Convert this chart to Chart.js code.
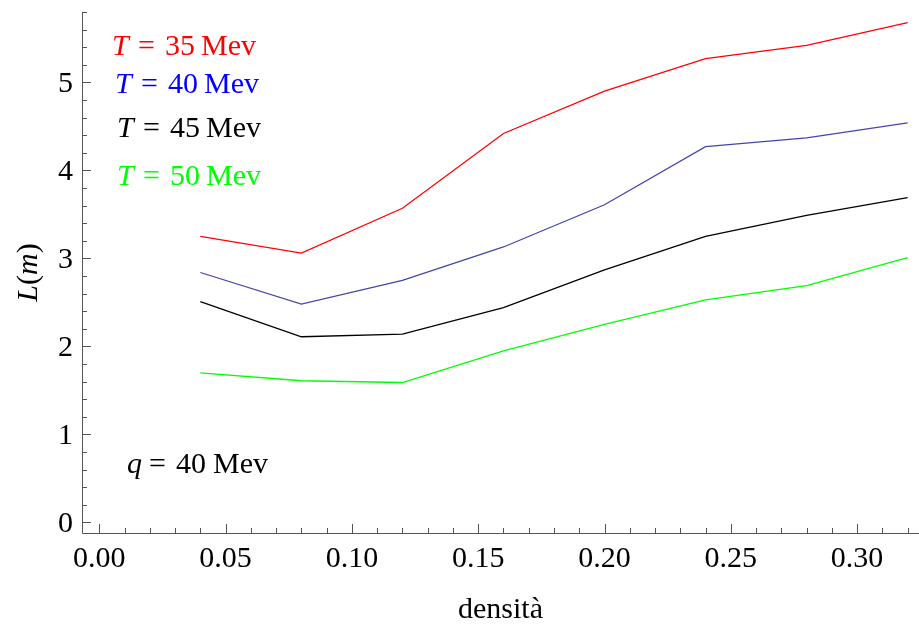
<!DOCTYPE html>
<html><head><meta charset="utf-8">
<script src="https://cdn.jsdelivr.net/npm/chart.js@4/dist/chart.umd.min.js"></script>
<style>html,body{margin:0;padding:0;background:#fff}#wrap{width:919px;height:628px}</style>
</head><body><div id="wrap"><canvas id="c" width="919" height="628"></canvas></div>
<script>
// ---- data ----
const densita = [0.04, 0.08, 0.12, 0.16, 0.20, 0.24, 0.28, 0.32];
const L_T35 = [3.25, 3.06, 3.57, 4.42, 4.90, 5.27, 5.42, 5.68];
const L_T40 = [2.84, 2.48, 2.75, 3.13, 3.61, 4.27, 4.37, 4.54];
const L_T45 = [2.51, 2.11, 2.14, 2.44, 2.87, 3.25, 3.49, 3.69];
const L_T50 = [1.70, 1.61, 1.59, 1.95, 2.25, 2.53, 2.69, 3.01];
const temperatures = ['35', '40', '45', '50'];
const xTicks = [0, 0.05, 0.10, 0.15, 0.20, 0.25, 0.30];
const yTicks = [0, 1, 2, 3, 4, 5];
const qLabel = '40';

const FONT = '"Liberation Serif", serif';
const FS = 30;
const toPts = ys => ys.map((y, i) => ({x: densita[i], y}));

const lineColors = ['#ff0000', '#4646a8', '#000000', '#00ff00'];
const textColors = ['#ff0000', '#0000ff', '#000000', '#00ff00'];
const series = [L_T35, L_T40, L_T45, L_T50];

function drawParts(ctx, x, y, parts, color) {
  ctx.fillStyle = color;
  ctx.textBaseline = 'alphabetic';
  ctx.textAlign = 'left';
  for (const p of parts) {
    ctx.font = (p.i ? 'italic ' : '') + FS + 'px ' + FONT;
    ctx.fillText(p.t, x + p.dx, y);
  }
}

const decor = {
  id: 'decor',
  afterDraw(chart) {
    const ctx = chart.ctx;
    const xs = chart.scales.x, ys = chart.scales.y;
    const a = chart.chartArea;
    const x0 = a.left, yb = a.bottom;
    ctx.save();
    ctx.strokeStyle = '#555';
    ctx.lineWidth = 1;
    // axis lines
    ctx.beginPath();
    ctx.moveTo(x0 + 0.5, a.top); ctx.lineTo(x0 + 0.5, yb + 0.5);
    ctx.lineTo(a.right, yb + 0.5);
    ctx.stroke();
    // inward ticks: major + minor
    ctx.beginPath();
    for (let k = 0; k <= 32; k++) {
      const v = k / 100;
      const px = Math.round(xs.getPixelForValue(v)) + 0.5;
      const len = (k % 5 === 0) ? 9 : 5;
      ctx.moveTo(px, yb); ctx.lineTo(px, yb - len);
    }
    for (let k = 0; k <= 29; k++) {
      const v = k / 5;
      const py = Math.round(ys.getPixelForValue(v)) + 0.5;
      const len = (k % 5 === 0) ? 9 : 5;
      ctx.moveTo(x0, py); ctx.lineTo(x0 + len, py);
    }
    ctx.stroke();

    // series labels
    const starts = [[112, 55], [115, 93], [117, 137], [117, 185]];
    temperatures.forEach((t, i) => {
      const [sx, sy] = starts[i];
      drawParts(ctx, sx, sy, [
        {t: 'T', i: true, dx: 0},
        {t: '=', dx: 26},
        {t: t, dx: 53},
        {t: 'Mev', dx: 89}
      ], textColors[i]);
    });
    // q label
    drawParts(ctx, 127, 473, [
      {t: 'q', i: true, dx: 0},
      {t: '=', dx: 22},
      {t: qLabel, dx: 49},
      {t: 'Mev', dx: 86}
    ], '#000');

    // y axis title L(m)
    ctx.save();
    const parts = [{t: 'L', i: true}, {t: '('}, {t: 'm', i: true}, {t: ')'}];
    let total = 0;
    for (const p of parts) {
      ctx.font = (p.i ? 'italic ' : '') + FS + 'px ' + FONT;
      p.w = ctx.measureText(p.t).width;
      total += p.w;
    }
    const cy = (a.top + a.bottom) / 2;
    ctx.translate(37, cy + total / 2);
    ctx.rotate(-Math.PI / 2);
    ctx.fillStyle = '#000';
    ctx.textBaseline = 'alphabetic';
    let cx = 0;
    for (const p of parts) {
      ctx.font = (p.i ? 'italic ' : '') + FS + 'px ' + FONT;
      ctx.fillText(p.t, cx, 0);
      cx += p.w;
    }
    ctx.restore();
    ctx.restore();
  }
};

const noPad = s => { s.paddingTop = 0; s.paddingBottom = 0; s.paddingLeft = 0; s.paddingRight = 0; };

new Chart(document.getElementById('c'), {
  type: 'line',
  data: {
    datasets: series.map((s, i) => ({
      label: 'T = ' + temperatures[i] + ' Mev',
      data: toPts(s),
      borderColor: lineColors[i],
      backgroundColor: lineColors[i],
      borderWidth: 1.3,
      pointRadius: 0,
      tension: 0,
      fill: false
    }))
  },
  options: {
    responsive: false,
    devicePixelRatio: 1,
    animation: false,
    layout: {padding: {top: 12, left: 0, right: 0, bottom: 0}},
    plugins: {legend: {display: false}, tooltip: {enabled: false}},
    scales: {
      x: {
        type: 'linear',
        min: -0.00685,
        max: 0.3245,
        afterBuildTicks: s => { s.ticks = xTicks.map(v => ({value: v})); },
        afterFit: s => { s.height = 95; noPad(s); },
        grid: {display: false, drawTicks: false},
        border: {display: false},
        ticks: {
          callback: v => Number(v).toFixed(2),
          font: {family: FONT, size: FS},
          color: '#000',
          padding: 8,
          maxRotation: 0,
          autoSkip: false
        },
        title: {
          display: true,
          text: 'densità',
          font: {family: FONT, size: FS},
          color: '#000',
          padding: 0
        }
      },
      y: {
        type: 'linear',
        min: -0.12,
        max: 5.8,
        afterBuildTicks: s => { s.ticks = yTicks.map(v => ({value: v})); },
        afterFit: s => { s.width = 82; noPad(s); },
        grid: {display: false, drawTicks: false},
        border: {display: false},
        ticks: {
          font: {family: FONT, size: FS},
          color: '#000',
          padding: 9,
          labelOffset: 2,
          autoSkip: false
        }
      }
    }
  },
  plugins: [decor]
});
</script>
</body></html>
